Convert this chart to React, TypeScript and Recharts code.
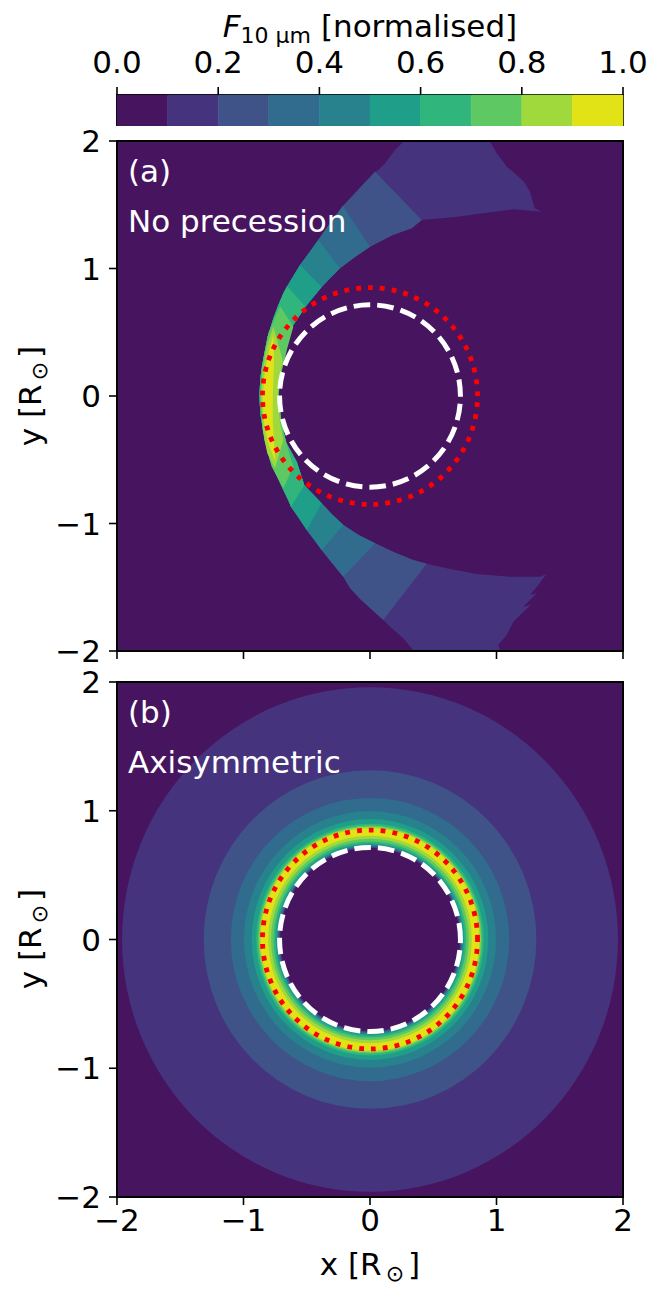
import { Bar, BarChart, ReferenceArea, Scatter, ScatterChart, XAxis, YAxis } from 'recharts'

const FONT = '"DejaVu Sans", sans-serif'

// colours of the ten filled levels, 0.0-0.1 up to 0.9-1.0
const levelColors = ['#47145f', '#46337e', '#3f5389', '#316c8e', '#27828e', '#1f9e89', '#30b57c', '#5ec962', '#9fd93b', '#e2e316']
const colorbarRow = [{ name: 'flux', l0: 0.1, l1: 0.1, l2: 0.1, l3: 0.1, l4: 0.1, l5: 0.1, l6: 0.1, l7: 0.1, l8: 0.1, l9: 0.1 }]
const colorbarTicks = [0, 0.2, 0.4, 0.6, 0.8, 1]
const axisTicks = [-2, -1, 0, 1, 2]

type Pt = [number, number]

const frame: Pt[] = [[-2, -2], [2, -2], [2, 2], [-2, 2]]
const WHITE_RADIUS = 0.715
const RED_RADIUS = 0.85

// panel (a): crescent edges, top to bottom
const outerEdge: Pt[] = [
  [0.263, 1.995], [0.198, 1.929], [0.119, 1.825], [0.058, 1.767], [0.04, 1.759], [-0.05, 1.665], [-0.132, 1.576],
  [-0.215, 1.49], [-0.277, 1.406], [-0.345, 1.315], [-0.409, 1.224], [-0.48, 1.125], [-0.553, 1.027], [-0.655, 0.86],
  [-0.685, 0.805], [-0.73, 0.7], [-0.764, 0.609], [-0.81, 0.46], [-0.843, 0.295], [-0.866, 0.15], [-0.875, 0.008],
  [-0.867, -0.14], [-0.845, -0.27], [-0.81, -0.42], [-0.791, -0.502], [-0.74, -0.62], [-0.685, -0.737], [-0.645, -0.82],
  [-0.625, -0.868], [-0.56, -0.96], [-0.5, -1.051], [-0.44, -1.13], [-0.382, -1.208], [-0.3, -1.31], [-0.211, -1.417],
  [-0.158, -1.506], [-0.08, -1.59], [0, -1.663], [0.105, -1.757], [0.172, -1.822], [0.263, -1.9], [0.342, -1.995],
]
const innerEdge: Pt[] = [
  [1.357, 1.445], [1.133, 1.464], [0.923, 1.438], [0.658, 1.402], [0.409, 1.38], [0.33, 1.315], [0.18, 1.262], [0, 1.171],
  [-0.119, 1.09], [-0.237, 1.002], [-0.31, 0.93], [-0.382, 0.855], [-0.51, 0.7], [-0.606, 0.557], [-0.672, 0.426],
  [-0.711, 0.243], [-0.725, 0.008], [-0.706, -0.175], [-0.665, -0.36], [-0.579, -0.515], [-0.519, -0.7], [-0.382, -0.842],
  [-0.3, -0.93], [-0.211, -1.012], [-0.09, -1.09], [0.04, -1.155], [0.2, -1.23], [0.342, -1.286], [0.448, -1.315],
  [0.606, -1.351], [0.843, -1.396], [1.107, -1.417], [1.344, -1.417], [1.397, -1.396],
]
const upperTip: Pt[] = [
  [1.304, 1.472], [1.286, 1.524], [1.265, 1.602], [1.217, 1.681], [1.16, 1.733], [1.081, 1.798], [1.002, 1.904], [0.949, 1.995],
]
const lowerTip: Pt[] = [
  [1.028, -1.995], [1.014, -1.953], [1.081, -1.875], [1.133, -1.77], [1.27, -1.639], [1.212, -1.653], [1.318, -1.548],
  [1.265, -1.561], [1.331, -1.482], [1.357, -1.443],
]
// [first, last] index on outerEdge and innerEdge for levels 2 to 6
const bandOuterCuts = [[4, 38], [7, 34], [10, 32], [12, 30], [13, 28]]
const bandInnerCuts = [[4, 28], [7, 25], [9, 23], [11, 21], [12, 20]]
const level7: Pt[] = [
  [-0.711, 0.706], [-0.606, 0.544], [-0.654, 0.374], [-0.698, 0.191], [-0.725, -0.005], [-0.693, -0.241], [-0.646, -0.424],
  [-0.606, -0.555], [-0.685, -0.724], [-0.777, -0.555], [-0.836, -0.345], [-0.87, -0.005], [-0.856, 0.23], [-0.804, 0.492],
]
const level8: Pt[] = [
  [-0.764, 0.544], [-0.69, 0.282], [-0.717, 0.125], [-0.73, -0.005], [-0.711, -0.214], [-0.685, -0.345], [-0.751, -0.567],
  [-0.812, -0.449], [-0.848, -0.267], [-0.862, -0.005], [-0.851, 0.178], [-0.817, 0.387],
]
const level9: Pt[] = [
  [-0.764, 0.478], [-0.759, 0.256], [-0.769, -0.005], [-0.769, -0.188], [-0.748, -0.515], [-0.804, -0.371], [-0.838, -0.214],
  [-0.848, -0.005], [-0.83, 0.204], [-0.796, 0.361],
]

// panel (b): nested discs, largest first, with the level each one paints
const discRadii = [1.96, 1.315, 1.1, 0.996, 0.935, 0.9, 0.885, 0.875, 0.865, 0.805, 0.782, 0.762, 0.747, 0.736, 0.728, 0.722, 0.716, 0.71]
const discLevels = [1, 2, 3, 4, 5, 6, 7, 8, 9, 8, 7, 6, 5, 4, 3, 2, 1, 0]

const crescent: Pt[] = [...outerEdge, ...lowerTip, ...[...innerEdge].reverse(), ...upperTip]
const bandPolygons: Pt[][] = bandOuterCuts.map(([a, b], i) => [
  ...outerEdge.slice(a, b + 1),
  ...innerEdge.slice(bandInnerCuts[i][0], bandInnerCuts[i][1] + 1).reverse(),
])

const toData = (pts: Pt[]) => pts.map(([x, y]) => ({ x, y }))
const circleData = (r: number) => toData([[r, 0], [0, r], [-r, 0], [0, -r]])

const polygonLine = (fill: string, stroke = 'none', strokeWidth = 0) => (props: any) => (
  <polygon points={props.points.map((p: any) => `${p.x},${p.y}`).join(' ')} fill={fill} stroke={stroke} strokeWidth={strokeWidth} />
)

// four library-scaled points on the circle give its centre and radii
const circleLine = (fill: string, stroke = 'none', strokeWidth = 0, dash?: string) => (props: any) => {
  const [a, b, c, d] = props.points
  const rx = (a.x - c.x) / 2
  const ry = (d.y - b.y) / 2
  const arc = (p: any) => `A ${rx} ${ry} 0 0 0 ${p.x} ${p.y}`
  return (
    <path
      d={`M ${a.x} ${a.y} ${arc(b)} ${arc(c)} ${arc(d)} ${arc(a)}`}
      fill={fill}
      stroke={stroke}
      strokeWidth={strokeWidth}
      strokeDasharray={dash}
    />
  )
}

const noDot = () => <g />
const minus = (v: number) => (v < 0 ? `\u2212${-v}` : `${v}`)
const tickStyle = { fontSize: 31, fill: '#000', fontFamily: FONT }
const tickLineStyle = { stroke: '#000', strokeWidth: 1.6 }

const shape = (data: { x: number; y: number }[], line: any, key: string) => (
  <Scatter key={key} data={data} line={line} shape={noDot} isAnimationActive={false} legendType="none" />
)

const sunLabel = (axis: string, x: number, y: number, rotate: boolean) => () => (
  <text
    x={x}
    y={y}
    textAnchor="middle"
    fontSize={31}
    fontFamily={FONT}
    fill="#000"
    transform={rotate ? `rotate(-90 ${x} ${y})` : undefined}
  >
    {axis} [R
    <tspan fontSize={22} dx={4} dy={6}>{'\u2299'}</tspan>
    <tspan dx={4} dy={-6}>]</tspan>
  </text>
)

const fluxLabel = () => (
  <text x={370} y={37} textAnchor="middle" fontSize={31} fontFamily={FONT} fill="#000">
    <tspan fontStyle="italic">F</tspan>
    <tspan fontSize={22} dy={6}>10 µm</tspan>
    <tspan dy={-6}> [normalised]</tspan>
  </text>
)

function PanelText({ top, tag, name }: { top: number; tag: string; name: string }) {
  const style = { position: 'absolute' as const, left: 128, color: '#fff', fontFamily: FONT, fontSize: 31, lineHeight: '36px', whiteSpace: 'nowrap' as const }
  return (
    <>
      <div style={{ ...style, top }}>{tag}</div>
      <div style={{ ...style, top: top + 50 }}>{name}</div>
    </>
  )
}

export default function App() {
  return (
    <div style={{ position: 'absolute', left: 0, top: 0, width: 664, height: 1299, background: '#fff', overflow: 'hidden' }}>
      <div style={{ position: 'absolute', left: 0, top: 0 }}>
        <BarChart
          width={664}
          height={126}
          layout="vertical"
          data={colorbarRow}
          barCategoryGap={0}
          margin={{ top: 0, right: 41, bottom: 0, left: 117 }}
        >
          <XAxis
            type="number"
            orientation="top"
            domain={[0, 1]}
            ticks={colorbarTicks}
            interval={0}
            height={95}
            tickFormatter={(v: number) => v.toFixed(1)}
            tick={tickStyle}
            tickLine={tickLineStyle}
            tickSize={8}
            tickMargin={14}
            axisLine={false}
            label={fluxLabel}
          />
          <YAxis type="category" dataKey="name" hide />
          {levelColors.map((c, i) => (
            <Bar key={c} dataKey={`l${i}`} stackId="cb" fill={c} stroke={c} strokeWidth={0.6} isAnimationActive={false} />
          ))}
          <ReferenceArea x1={0} x2={1} fill="none" stroke="#000" strokeWidth={2} ifOverflow="visible" />
        </BarChart>
      </div>

      <div style={{ position: 'absolute', left: 0, top: 121 }}>
        <ScatterChart width={664} height={560} margin={{ top: 20, right: 41, bottom: 0, left: 0 }}>
          <XAxis
            type="number"
            dataKey="x"
            domain={[-2, 2]}
            ticks={axisTicks}
            interval={0}
            height={30}
            tickFormatter={() => ''}
            tickLine={tickLineStyle}
            tickSize={8}
            axisLine={false}
          />
          <YAxis
            type="number"
            dataKey="y"
            domain={[-2, 2]}
            ticks={axisTicks}
            interval={0}
            width={117}
            tickFormatter={minus}
            tick={tickStyle}
            tickLine={tickLineStyle}
            tickSize={8}
            tickMargin={8}
            axisLine={false}
            label={sunLabel('y', 41, 275, true)}
          />
          {shape(toData(frame), polygonLine(levelColors[0]), 'bg')}
          {shape(toData(crescent), polygonLine(levelColors[1]), 'crescent')}
          {bandPolygons.map((pts, i) => shape(toData(pts), polygonLine(levelColors[i + 2]), `band${i}`))}
          {shape(toData(level7), polygonLine(levelColors[7]), 'l7')}
          {shape(toData(level8), polygonLine(levelColors[8]), 'l8')}
          {shape(toData(level9), polygonLine(levelColors[9]), 'l9')}
          {shape(circleData(RED_RADIUS), circleLine('none', '#ff0000', 4.8, '4.8 7.1'), 'red')}
          {shape(circleData(WHITE_RADIUS), circleLine('none', '#ffffff', 5, '16.6 7.1'), 'white')}
          {shape(toData(frame), polygonLine('none', '#000', 2), 'frame')}
        </ScatterChart>
      </div>
      <PanelText top={153} tag="(a)" name="No precession" />

      <div style={{ position: 'absolute', left: 0, top: 662 }}>
        <ScatterChart width={664} height={637} margin={{ top: 20, right: 41, bottom: 0, left: 0 }}>
          <XAxis
            type="number"
            dataKey="x"
            domain={[-2, 2]}
            ticks={axisTicks}
            interval={0}
            height={102}
            tickFormatter={minus}
            tick={tickStyle}
            tickLine={tickLineStyle}
            tickSize={8}
            tickMargin={4}
            axisLine={false}
            label={sunLabel('x', 370, 613, false)}
          />
          <YAxis
            type="number"
            dataKey="y"
            domain={[-2, 2]}
            ticks={axisTicks}
            interval={0}
            width={117}
            tickFormatter={minus}
            tick={tickStyle}
            tickLine={tickLineStyle}
            tickSize={8}
            tickMargin={8}
            axisLine={false}
            label={sunLabel('y', 41, 277, true)}
          />
          {shape(toData(frame), polygonLine(levelColors[0]), 'bg')}
          {discRadii.map((r, i) => shape(circleData(r), circleLine(levelColors[discLevels[i]]), `disc${i}`))}
          {shape(circleData(RED_RADIUS), circleLine('none', '#ff0000', 4.8, '4.8 7.1'), 'red')}
          {shape(circleData(WHITE_RADIUS), circleLine('none', '#ffffff', 5, '16.6 7.1'), 'white')}
          {shape(toData(frame), polygonLine('none', '#000', 2), 'frame')}
        </ScatterChart>
      </div>
      <PanelText top={694} tag="(b)" name="Axisymmetric" />
    </div>
  )
}
